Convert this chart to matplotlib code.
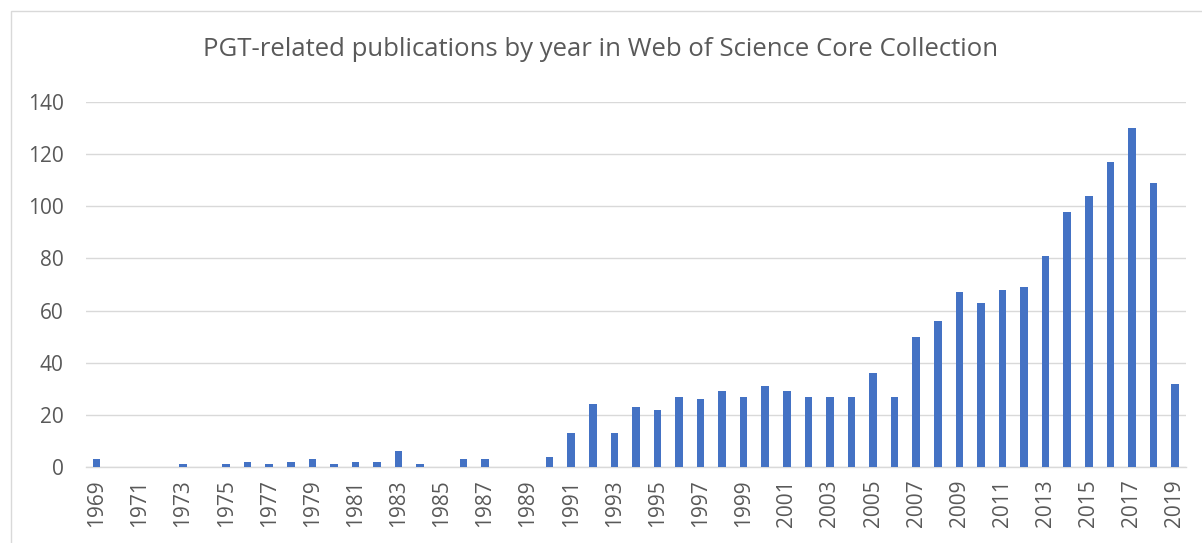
import matplotlib.pyplot as plt
from matplotlib.patches import Rectangle

# publication counts per year
years = list(range(1969, 2020))
counts = [3, 0, 0, 0, 1, 0, 1, 2, 1, 2,
          3, 1, 2, 2, 6, 1, 0, 3, 3, 0,
          0, 4, 13, 24, 13, 23, 22, 27, 26, 29,
          27, 31, 29, 27, 27, 27, 36, 27, 50, 56,
          67, 63, 68, 69, 81, 98, 104, 117, 130, 109,
          32]
yticks = [0, 20, 40, 60, 80, 100, 120, 140]

plt.rcParams['font.family'] = ['Open Sans', 'DejaVu Sans']

fig = plt.figure(figsize=(12.02, 5.43), dpi=100)
ax = fig.add_axes([0.0715, 0.14, 0.915, 0.672])

x = list(range(len(years)))
ax.bar(x, counts, width=0.35, color='#4472C4', zorder=3)

ax.set_xlim(-0.5, len(years) - 0.5)
ax.set_ylim(0, 140)
ax.set_yticks(yticks)
ax.set_xticks(x[::2])
ax.set_xticklabels([str(y) for y in years[::2]], rotation=90)
ax.tick_params(axis='both', length=0, labelsize=15, colors='#595959')
ax.tick_params(axis='x', pad=9)
ax.tick_params(axis='y', pad=16)

ax.grid(axis='y', color='#d9d9d9', linewidth=1, zorder=0)
for side in ['top', 'right', 'left']:
    ax.spines[side].set_visible(False)
ax.spines['bottom'].set_color('#d9d9d9')
ax.spines['bottom'].set_linewidth(1)

fig.text(0.5, 0.908, 'PGT-related publications by year in Web of Science Core Collection',
         ha='center', va='center', fontsize=18.5, color='#595959')

# thin chart border like the office chart frame
fig.patches.append(Rectangle((0.009, -0.01), 0.995, 0.99, transform=fig.transFigure,
                             fill=False, edgecolor='#d9d9d9', linewidth=1))

fig.savefig('out.png', dpi=100)
